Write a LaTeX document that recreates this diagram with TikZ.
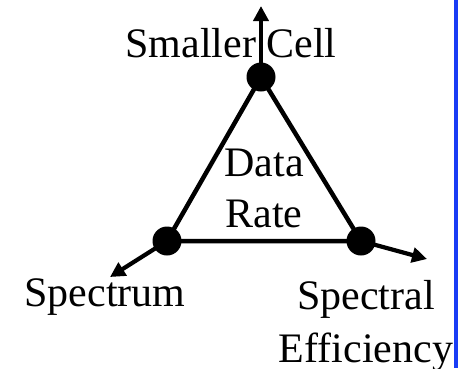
\documentclass[tikz,border=0pt]{standalone}
\usepackage{fontspec}
\setmainfont{Liberation Serif}
\usetikzlibrary{arrows.meta}
\definecolor{barblue}{RGB}{25,60,245}
\begin{document}
\begin{tikzpicture}[x=1pt,y=-1pt,
  edge/.style={line width=4.5pt, line join=round},
  ray/.style={line width=4.2pt, -{Triangle[length=15pt,width=15pt]}},
  dot/.style={circle, fill=black, inner sep=0pt, minimum size=29pt},
  lbl/.style={font=\fontsize{42}{52}\selectfont, inner sep=0pt, align=center}]
\useasboundingbox (0,0) rectangle (464,368);
\fill[white] (0,0) rectangle (464,368);
% labels
\node[lbl, anchor=base] (smaller) at (231,57) {Smaller Cell};
\node[lbl, anchor=base] (data) at (264,176) {Data};
\node[lbl, anchor=base] (rate) at (264,227) {Rate};
\node[lbl, anchor=base] (spectrum) at (105,306) {Spectrum};
\node[lbl, anchor=base] (spectral) at (366,309) {Spectral};
\node[lbl, anchor=base] (eff) at (366,362) {Efficiency};
% vertices
\coordinate (A) at (261,77);
\coordinate (B) at (167,241);
\coordinate (C) at (361,241);
\coordinate (tA) at (261,6);
\coordinate (tB) at (110,277);
\coordinate (tC) at (427,259);
\draw[edge] (A) -- (B) -- (C) -- cycle;
\draw[ray] (A) -- (tA);
\draw[ray] (B) -- (tB);
\draw[ray] (C) -- (tC);
\node[dot] (dA) at (A) {};
\node[dot] (dB) at (B) {};
\node[dot] (dC) at (C) {};
% blue bar
\fill[barblue] (454,0) rectangle (458,368);
\end{tikzpicture}
\end{document}
